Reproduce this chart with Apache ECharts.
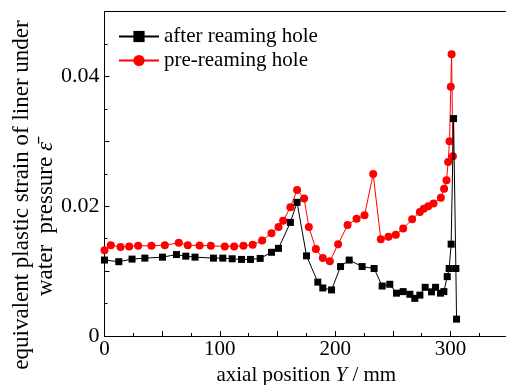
<!DOCTYPE html>
<html>
<head>
<meta charset="utf-8">
<script src="https://cdn.jsdelivr.net/npm/echarts@6/dist/echarts.min.js"></script>
<style>
html,body{margin:0;padding:0;background:#fff;}
#chart{width:506px;height:385px;}
</style>
</head>
<body>
<div id="chart"></div>
<script>
// axial position (mm) and strain values (x1e-3)
var afterX = [0, 12.4, 23.9, 35, 50.3, 62.4, 70.5, 78.5, 94.5, 102.6, 110.7, 118.8, 126.6, 135, 144.8, 150.9, 161.2, 167, 175.2, 185, 189.3, 196.9, 204.7, 212.2, 223.4, 233.8, 240.8, 247.4, 253.2, 259, 264.8, 269.1, 273.5, 278.1, 283.6, 287.1, 291.4, 294.3, 297.2, 298.9, 300.6, 302.7, 304.7, 305.3];
var afterY = [11.7, 11.45, 11.85, 12.0, 12.15, 12.55, 12.3, 12.15, 12.0, 12.0, 11.9, 11.8, 11.8, 11.95, 12.9, 13.5, 17.5, 20.6, 12.35, 8.3, 7.4, 7.1, 10.7, 11.7, 10.7, 10.4, 7.7, 7.97, 6.6, 6.84, 6.43, 5.8, 6.3, 7.5, 6.8, 7.5, 6.6, 6.84, 9.15, 10.4, 14.15, 33.5, 10.4, 2.6];
var preX = [0, 5.5, 13.9, 21.4, 29.2, 40.7, 52.3, 64.4, 72.2, 82.5, 92.2, 104.3, 112.4, 120.5, 128.5, 136.7, 144.8, 150.9, 154.9, 161.2, 167, 173.1, 177.2, 183.3, 189.3, 195.4, 202.6, 210.8, 218.6, 225.5, 233, 239.6, 246.3, 252.6, 259, 266.8, 273.5, 276.9, 280.7, 285.3, 291.7, 294.5, 296.6, 298, 299.2, 300.3, 301, 302.1];
var preY = [13.2, 14.0, 13.7, 13.8, 13.9, 13.9, 14.0, 14.35, 14.0, 13.95, 13.9, 13.8, 13.8, 13.9, 14.05, 14.7, 15.85, 16.8, 17.75, 19.85, 22.5, 21.2, 16.8, 13.4, 12.0, 11.5, 14.15, 17.1, 18.05, 18.6, 24.95, 14.9, 15.3, 15.6, 16.55, 18.0, 19.1, 19.6, 20.0, 20.4, 21.3, 22.7, 24.0, 26.8, 30.0, 38.4, 43.4, 27.7];
var xTickLabels = ['0', '100', '200', '300'];
var yTickLabels = ['0', '0.02', '0.04'];
var seriesNames = ['after reaming hole', 'pre-reaming hole'];

function pairs(xs, ys) {
  return xs.map(function (x, i) { return [x, ys[i] / 1000]; });
}

var FONT = "'Liberation Serif', 'Times New Roman', serif";
var chart = echarts.init(document.getElementById('chart'), null, {renderer: 'canvas'});
chart.setOption({
  animation: false,
  backgroundColor: '#fff',
  grid: {left: 104.5, top: 11.5, width: 403.6, height: 324.5, outerBoundsMode: 'none', containLabel: false, show: false},
  legend: {
    orient: 'vertical', left: 113, top: 21, itemWidth: 40, itemHeight: 14, itemGap: 3,
    textStyle: {fontFamily: FONT, fontSize: 21, color: '#000'},
    data: seriesNames
  },
  xAxis: [{
    type: 'value', min: 0, max: 350, interval: 50,
    name: '{a|axial position }{i|Y}{a| / mm}', nameLocation: 'middle', nameGap: 23,
    nameTextStyle: {rich: {a: {fontFamily: FONT, fontSize: 21, color: '#000'}, i: {fontFamily: FONT, fontSize: 21, fontStyle: 'italic', color: '#000'}}},
    axisLine: {lineStyle: {color: '#000', width: 1}},
    axisTick: {inside: true, length: 5, lineStyle: {color: '#000'}},
    minorTick: {show: true, splitNumber: 2, length: 3, lineStyle: {color: '#000'}},
    splitLine: {show: false},
    axisLabel: {fontFamily: FONT, fontSize: 21, color: '#000', margin: 3,
      formatter: function (v) { var s = String(Math.round(v)); return xTickLabels.indexOf(s) >= 0 ? s : ''; }}
  }, {
    type: 'value', position: 'top', min: 0, max: 350,
    axisLine: {show: true, lineStyle: {color: '#000', width: 1}},
    axisTick: {show: false}, axisLabel: {show: false}, splitLine: {show: false}
  }],
  yAxis: {
    type: 'value', min: 0, max: 0.05, interval: 0.01,
    axisLine: {show: true, lineStyle: {color: '#000', width: 1}},
    axisTick: {inside: true, length: 5, lineStyle: {color: '#000'}},
    minorTick: {show: true, splitNumber: 2, length: 3, lineStyle: {color: '#000'}},
    splitLine: {show: false},
    axisLabel: {fontFamily: FONT, fontSize: 22, color: '#000', margin: 5,
      formatter: function (v) {
        var s = v === 0 ? '0' : (Math.round(v * 1000) / 1000).toFixed(2);
        return yTickLabels.indexOf(s) >= 0 ? s : '';
      }}
  },
  graphic: [
    {type: 'text', x: 22, y: 195, rotation: Math.PI / 2,
      style: {text: 'equivalent plastic strain of liner under', font: '23px ' + FONT, fill: '#000', align: 'center', verticalAlign: 'middle'}},
    {type: 'text', x: 46, y: 219, rotation: Math.PI / 2,
      style: {text: '{a|water  pressure }{i|ε̄}', align: 'center', verticalAlign: 'middle',
        rich: {a: {fontFamily: FONT, fontSize: 23, fill: '#000', color: '#000'}, i: {fontFamily: FONT, fontSize: 23, fontStyle: 'italic', color: '#000'}}}}
  ],
  series: [
    {name: seriesNames[0], type: 'line', z: 3, data: pairs(afterX, afterY),
      symbol: 'rect', symbolSize: 7, showAllSymbol: true,
      lineStyle: {color: '#000', width: 1}, itemStyle: {color: '#000'}},
    {name: seriesNames[1], type: 'line', z: 2, data: pairs(preX, preY),
      symbol: 'circle', symbolSize: 8, showAllSymbol: true,
      lineStyle: {color: '#ff0000', width: 1}, itemStyle: {color: '#ff0000'}}
  ]
});
</script>
</body>
</html>
